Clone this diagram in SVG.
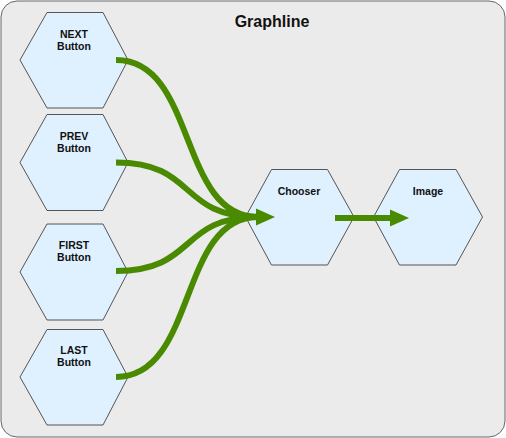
<svg xmlns="http://www.w3.org/2000/svg" width="506" height="438" viewBox="0 0 506 438">
<style>
.hex{fill:#dff0fe;stroke:#555;stroke-width:1}
.lbl{font-family:"Liberation Sans",Arial,sans-serif;font-weight:bold;font-size:10.5px;fill:#111;text-anchor:middle}
.title{font-family:"Liberation Sans",Arial,sans-serif;font-weight:bold;font-size:16px;fill:#111;text-anchor:middle}
.edge{fill:none;stroke:#4a8a00;stroke-width:6}
.head{fill:#4a8a00}
</style>
<rect x="1" y="1" width="504" height="436" rx="16" ry="16" fill="#ebebeb" stroke="#666" stroke-width="1"/>
<text class="title" x="272" y="27">Graphline</text>
<g id="next"><polygon class="hex" points="20,60 47,12.5 103,12.5 128,60 103,108 47,108"/><text class="lbl" x="74" y="38">NEXT</text><text class="lbl" x="74" y="50">Button</text></g>
<g id="prev"><polygon class="hex" points="20,162.5 47,114.5 103,114.5 128,162.5 103,210.5 47,210.5"/><text class="lbl" x="74" y="140">PREV</text><text class="lbl" x="74" y="152">Button</text></g>
<g id="first"><polygon class="hex" points="20,272 47,224 103,224 128,272 103,320 47,320"/><text class="lbl" x="74" y="249">FIRST</text><text class="lbl" x="74" y="261">Button</text></g>
<g id="last"><polygon class="hex" points="20,377 47,329.5 103,329.5 128,377 103,425 47,425"/><text class="lbl" x="74" y="354">LAST</text><text class="lbl" x="74" y="366">Button</text></g>
<g id="chooser"><polygon class="hex" points="245.5,217 271.5,169.5 327.5,169.5 354,217 327.5,265 271.5,265"/><text class="lbl" x="299" y="195">Chooser</text></g>
<g id="image"><polygon class="hex" points="373.5,217 399.5,169.5 456,169.5 482.5,217 456,265 399.5,265"/><text class="lbl" x="428" y="195">Image</text></g>
<g id="connectors">
<path class="edge" d="M116,60 C197,60 178,217 258,217"/>
<path class="edge" d="M116,162.5 C197,162.5 178,217 258,217"/>
<path class="edge" d="M116,271 C197,271 178,217 258,217"/>
<path class="edge" d="M116,377 C197,377 178,217 258,217"/>
<polygon class="head" points="256,208.5 275,217 256,225.5"/>
<path class="edge" d="M335,218 L392,218"/>
<polygon class="head" points="390,209.5 409,218 390,226.5"/>
</g>
</svg>
